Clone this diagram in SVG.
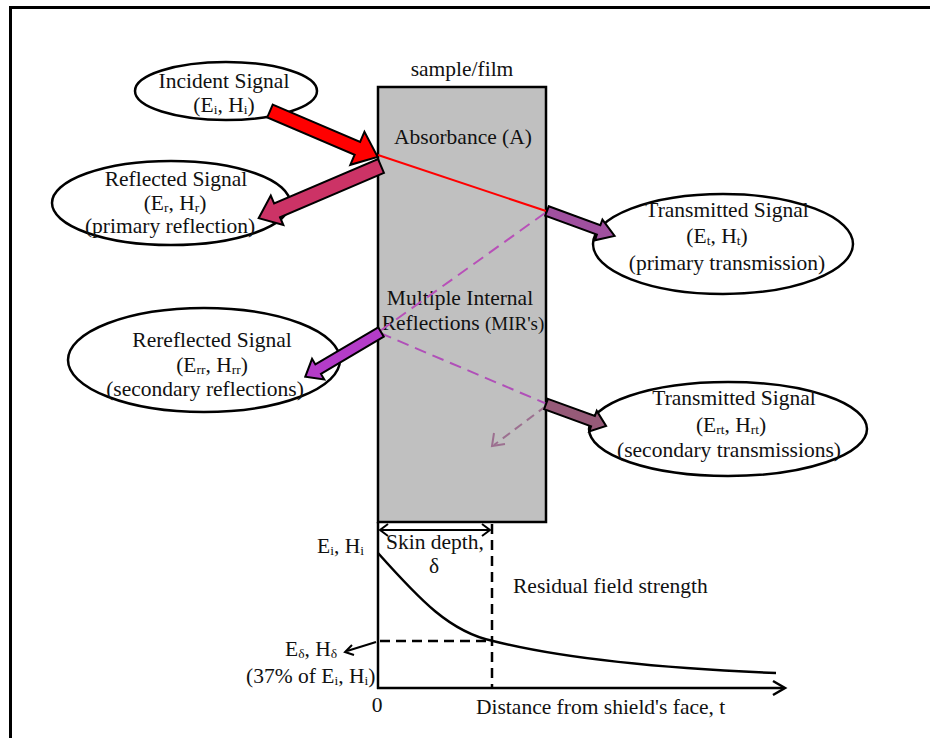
<svg xmlns="http://www.w3.org/2000/svg" width="930" height="738" viewBox="0 0 930 738">
<style>
text{font-family:"Liberation Serif","Times New Roman",serif;font-size:21.5px;fill:#111}
.c{text-anchor:middle}
.sub{font-size:13.5px}
.ell{fill:#fff;stroke:#000;stroke-width:2.5}
.blk{stroke:#000;stroke-width:2;stroke-linejoin:miter}
.ln{fill:none;stroke:#000;stroke-width:2.5}
.dash{fill:none;stroke:#000;stroke-width:2.5;stroke-dasharray:10,6}
</style>
<rect width="930" height="738" fill="#fff"/>
<path d="M10.5,738 V7.5 H930" fill="none" stroke="#000" stroke-width="3"/>

<g id="sample">
<rect x="378" y="87" width="168" height="435" fill="#c0c0c0" stroke="#000" stroke-width="2.5"/>
<text class="c" x="462" y="76">sample/film</text>
<text class="c" x="463" y="144">Absorbance (A)</text>
<text class="c" x="460" y="305">Multiple Internal</text>
<text class="c" x="463" y="330">Reflections <tspan font-size="19">(MIR's)</tspan></text>
</g>

<g id="incident">
<ellipse class="ell" cx="226" cy="91" rx="91" ry="29"/>
<text class="c" x="224" y="88">Incident Signal</text>
<text class="c" x="224" y="112">(E<tspan class="sub" dy="2">i</tspan><tspan dy="-2">, H</tspan><tspan class="sub" dy="2">i</tspan><tspan dy="-2">)</tspan></text>
</g>

<g id="reflected">
<ellipse class="ell" cx="171" cy="203" rx="119" ry="42"/>
<text class="c" x="176" y="186">Reflected Signal</text>
<text class="c" x="175" y="210">(E<tspan class="sub" dy="2">r</tspan><tspan dy="-2">, H</tspan><tspan class="sub" dy="2">r</tspan><tspan dy="-2">)</tspan></text>
<text class="c" x="170" y="233">(primary reflection)</text>
</g>

<g id="transmitted1">
<ellipse class="ell" cx="723" cy="244" rx="130" ry="50"/>
<text class="c" x="727" y="217">Transmitted Signal</text>
<text class="c" x="717" y="243">(E<tspan class="sub" dy="2">t</tspan><tspan dy="-2">, H</tspan><tspan class="sub" dy="2">t</tspan><tspan dy="-2">)</tspan></text>
<text class="c" x="727" y="270">(primary transmission)</text>
</g>

<g id="rereflected">
<ellipse class="ell" cx="204" cy="360" rx="136" ry="52"/>
<text class="c" x="212" y="347">Rereflected Signal</text>
<text class="c" x="212" y="372">(E<tspan class="sub" dy="2">rr</tspan><tspan dy="-2">, H</tspan><tspan class="sub" dy="2">rr</tspan><tspan dy="-2">)</tspan></text>
<text class="c" x="205" y="396">(secondary reflections)</text>
</g>

<g id="transmitted2">
<ellipse class="ell" cx="728" cy="429" rx="139" ry="47"/>
<text class="c" x="734" y="405">Transmitted Signal</text>
<text class="c" x="731" y="432">(E<tspan class="sub" dy="2">rt</tspan><tspan dy="-2">, H</tspan><tspan class="sub" dy="2">rt</tspan><tspan dy="-2">)</tspan></text>
<text class="c" x="729" y="457">(secondary transmissions)</text>
</g>

<g id="connectors">
<line x1="378" y1="155" x2="546" y2="211" stroke="#ff0000" stroke-width="2"/>
<line x1="545" y1="213" x2="380" y2="331" stroke="#b850b8" stroke-width="2" stroke-dasharray="12,7"/>
<line x1="380" y1="333" x2="547" y2="404" stroke="#b050b8" stroke-width="2" stroke-dasharray="12,7"/>
<line x1="546" y1="406" x2="494" y2="445" stroke="#9c7090" stroke-width="2" stroke-dasharray="9,6"/>
<polyline points="494,433 492,446 505,444" fill="none" stroke="#9c7090" stroke-width="2"/>
<polygon class="blk" fill="#ff0000" transform="translate(270,111) rotate(23.1)" points="0,-7 95,-7 95,-18 117,0 95,18 95,7 0,7"/>
<polygon class="blk" fill="#cc3366" transform="translate(381,166) rotate(156.9)" points="0,-7.5 113,-7.5 113,-16 133,0 113,16 113,7.5 0,7.5"/>
<polygon class="blk" fill="#a0509f" transform="translate(547,211) rotate(20.2)" points="0,-5 55,-5 55,-11 72,0 55,11 55,5 0,5"/>
<polygon class="blk" fill="#b43cc8" transform="translate(381,332) rotate(149.4)" points="0,-5.5 73,-5.5 73,-12 88,0 73,12 73,5.5 0,5.5"/>
<polygon class="blk" fill="#965a78" transform="translate(546,404) rotate(20.1)" points="0,-5.5 50,-5.5 50,-11 64,0 50,11 50,5.5 0,5.5"/>
</g>

<g id="graph">
<line class="ln" x1="378" y1="522" x2="378" y2="689"/>
<line class="ln" x1="377" y1="688" x2="784" y2="688"/>
<polyline class="ln" points="773,681 785,688 773,695"/>
<line class="dash" x1="492" y1="524" x2="492" y2="688"/>
<line class="dash" x1="380" y1="641" x2="492" y2="641"/>
<line x1="380" y1="530" x2="490" y2="530" stroke="#000" stroke-width="2"/>
<polyline points="388,524 380,530 388,536" fill="none" stroke="#000" stroke-width="2"/>
<polyline points="482,524 490,530 482,536" fill="none" stroke="#000" stroke-width="2"/>
<path d="M378,553 C420,600 450,632 493,641 C560,658 650,668 776,673" fill="none" stroke="#000" stroke-width="2.5"/>
<line x1="376" y1="642" x2="347" y2="651" stroke="#000" stroke-width="2"/>
<polyline points="352,645 345,652 354,655" fill="none" stroke="#000" stroke-width="2"/>
<text x="386" y="549">Skin depth,</text>
<text class="c" x="434" y="573">δ</text>
<text x="513" y="593">Residual field strength</text>
<text x="317" y="553">E<tspan class="sub" dy="2">i</tspan><tspan dy="-2">, H</tspan><tspan class="sub" dy="2">i</tspan></text>
<text x="285" y="656">E<tspan class="sub" dy="2">δ</tspan><tspan dy="-2">, H</tspan><tspan class="sub" dy="2">δ</tspan></text>
<text x="246" y="683">(37% of E<tspan class="sub" dy="2">i</tspan><tspan dy="-2">, H</tspan><tspan class="sub" dy="2">i</tspan><tspan dy="-2">)</tspan></text>
<text class="c" x="377" y="712">0</text>
<text x="476" y="714">Distance from shield's face, t</text>
</g>
</svg>
